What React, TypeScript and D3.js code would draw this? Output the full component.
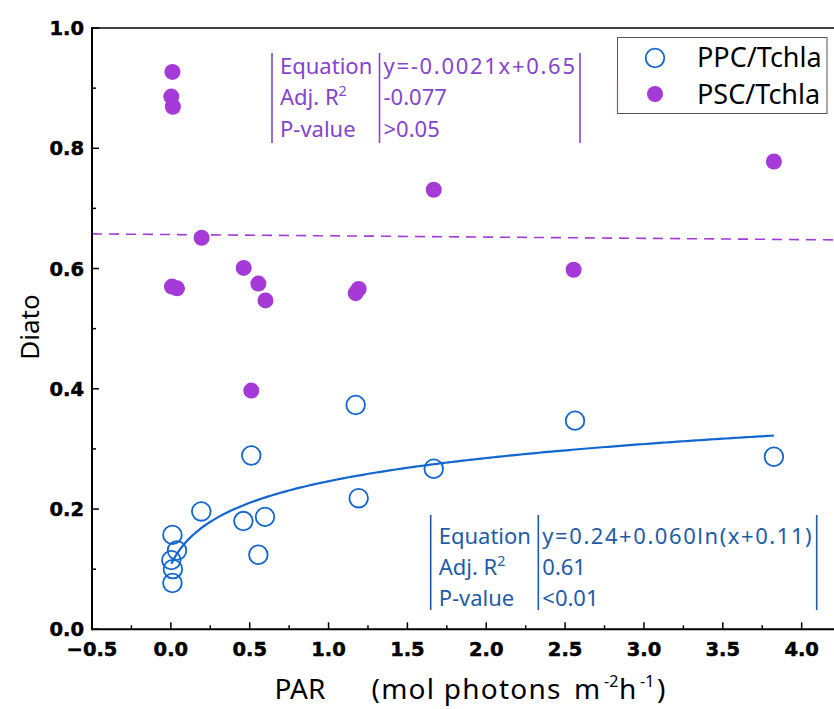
import React from 'react';
import * as d3 from 'd3';

// PPC/Tchla (open blue circles)
const ppcX = [0.01, 0.013, 0.003, 0.039, 0.01, 0.193, 0.51, 0.46, 0.597, 0.555, 1.172, 1.191, 1.667, 2.563, 3.824];
const ppcY = [0.077, 0.1, 0.115, 0.131, 0.157, 0.196, 0.289, 0.18, 0.187, 0.124, 0.373, 0.218, 0.267, 0.347, 0.287];
// PSC/Tchla (filled purple circles)
const pscX = [0.01, 0.003, 0.013, 0.195, 0.007, 0.039, 0.462, 0.555, 0.6, 0.51, 1.172, 1.191, 1.667, 2.554, 3.824];
const pscY = [0.927, 0.886, 0.869, 0.651, 0.57, 0.567, 0.601, 0.575, 0.547, 0.397, 0.559, 0.566, 0.731, 0.598, 0.778];

// Fits
const logA = 0.24, logB = 0.06, logC = 0.11;
const linSlope = -0.0021, linIntercept = 0.6565;

const xTicks = [-0.5, 0, 0.5, 1, 1.5, 2, 2.5, 3, 3.5, 4];
const yTicks = [0, 0.2, 0.4, 0.6, 0.8, 1.0];

const legendLabels = ['PPC/Tchla', 'PSC/Tchla'];
const pscTableKeys = ['Equation', 'Adj. R', 'P-value'];
const pscTableVals = ['y=-0.0021x+0.65', '-0.077', '>0.05'];
const ppcTableKeys = ['Equation', 'Adj. R', 'P-value'];
const ppcTableVals = ['y=0.24+0.060ln(x+0.11)', '0.61', '<0.01'];

const W = 834, H = 709;
const BLUE = '#1166cf';
const BLUE_TXT = '#1f5ca6';
const PURPLE = '#a53ad9';
const PURPLE_TXT = '#8444cc';
const TXT_FONT = '"Noto Sans", "Open Sans", sans-serif';
const TICK_FONT = '"DejaVu Sans", sans-serif';

export default function App() {
  const x = d3.scaleLinear().domain([-0.5, 4.2]).range([92, 833.2]);
  const y = d3.scaleLinear().domain([0, 1]).range([629.3, 28]);

  const xMinor = d3.range(-0.5, 4.21, 0.25);
  const yMinor = d3.range(0, 1.001, 0.1);

  const ppcMin = d3.min(ppcX) as number;
  const ppcMax = d3.max(ppcX) as number;
  const curvePts = d3.range(0, 201).map((i) => {
    const xv = ppcMin + ((ppcMax - ppcMin) * i) / 200;
    return [xv, logA + logB * Math.log(xv + logC)] as [number, number];
  });
  const curve = d3.line<[number, number]>().x((d) => x(d[0])).y((d) => y(d[1]))(curvePts) || '';
  const [x0, x1] = x.domain();
  const linePath = d3.line<[number, number]>().x((d) => x(d[0])).y((d) => y(d[1]))([
    [x0, linIntercept + linSlope * x0],
    [x1, linIntercept + linSlope * x1],
  ]) || '';

  const table = (
    keys: string[], vals: string[], color: string,
    xl: number, xm: number, xr: number, yTop: number, yBot: number, base0: number, fs: number,
  ) => (
    <g fill={color} fontFamily={TXT_FONT} fontSize={fs}>
      <line x1={xl} x2={xl} y1={yTop} y2={yBot} stroke={color} strokeWidth={1.6} />
      <line x1={xm} x2={xm} y1={yTop} y2={yBot} stroke={color} strokeWidth={1.6} />
      <line x1={xr} x2={xr} y1={yTop} y2={yBot} stroke={color} strokeWidth={1.6} />
      {keys.map((k, i) => (
        <text key={'k' + i} x={xl + 8} y={base0 + i * 31.3}>
          {k}
          {k === 'Adj. R' ? <tspan fontSize={fs * 0.65} dy={-9}>2</tspan> : null}
        </text>
      ))}
      {vals.map((v, i) => (
        <text key={'v' + i} x={xm + 4} y={base0 + i * 31.3}
          textLength={i === 0 ? xr - xm - 9 : undefined} lengthAdjust="spacing">{v}</text>
      ))}
    </g>
  );

  return (
    <svg width={W} height={H} style={{ position: 'absolute', left: 0, top: 0, display: 'block', background: '#fff' }}>
      {/* fit lines */}
      <path d={linePath} fill="none" stroke={PURPLE} strokeWidth={1.6} strokeDasharray="10,7" />
      <path d={curve} fill="none" stroke={BLUE} strokeWidth={2.2} />

      {/* points */}
      {pscX.map((xv, i) => (
        <circle key={'s' + i} cx={x(xv)} cy={y(pscY[i])} r={8} fill={PURPLE} />
      ))}
      {ppcX.map((xv, i) => (
        <circle key={'p' + i} cx={x(xv)} cy={y(ppcY[i])} r={9.3} fill="none" stroke={BLUE} strokeWidth={1.8} />
      ))}

      {/* axes */}
      <line x1={x.range()[0]} x2={W} y1={y(0)} y2={y(0)} stroke="#000" strokeWidth={2} />
      <line x1={x.range()[0]} x2={W} y1={y(1)} y2={y(1)} stroke="#000" strokeWidth={1.5} />
      <line x1={x.range()[0]} x2={x.range()[0]} y1={y(1) - 1} y2={y(0) + 1} stroke="#000" strokeWidth={2} />
      {xMinor.map((t, i) => {
        const major = Math.abs(t * 2 - Math.round(t * 2)) < 1e-6;
        return <line key={'xt' + i} x1={x(t)} x2={x(t)} y1={y(0)} y2={y(0) - (major ? 7 : 4)} stroke="#000" strokeWidth={1.5} />;
      })}
      {yMinor.map((t, i) => {
        const major = Math.abs(t * 5 - Math.round(t * 5)) < 1e-6;
        return <line key={'yt' + i} x1={x.range()[0]} x2={x.range()[0] + (major ? 7 : 4)} y1={y(t)} y2={y(t)} stroke="#000" strokeWidth={1.5} />;
      })}
      {xTicks.map((t, i) => (
        <text key={'xl' + i} x={x(t)} y={656} textAnchor="middle" fontFamily={TICK_FONT} fontWeight="bold" fontSize={19.5}
          fill="#000" stroke="#000" strokeWidth={0.5}>
          {d3.format('.1f')(t)}
        </text>
      ))}
      {yTicks.map((t, i) => (
        <text key={'yl' + i} x={84} y={y(t) + 7} textAnchor="end" fontFamily={TICK_FONT} fontWeight="bold" fontSize={19.5}
          fill="#000" stroke="#000" strokeWidth={0.5}>
          {d3.format('.1f')(t)}
        </text>
      ))}

      {/* axis titles */}
      <text transform="translate(39,327) rotate(-90)" textAnchor="middle" fontFamily={TXT_FONT} fontSize={26} fill="#000">Diato</text>
      <g fontFamily={TXT_FONT} fontSize={28} fill="#000">
        <text x={274.5} y={699}>PAR</text>
        <text x={371.5} y={699} textLength={189} lengthAdjust="spacing">(mol photons</text>
        <text x={574} y={699}>m</text>
        <text x={604} y={687} fontSize={16}>-2</text>
        <text x={619} y={699}>h</text>
        <text x={640} y={687} fontSize={16}>-1</text>
        <text x={657} y={699}>)</text>
      </g>

      {/* tables */}
      {table(pscTableKeys, pscTableVals, PURPLE_TXT, 272, 379.5, 580, 53, 143, 74, 22)}
      {table(ppcTableKeys, ppcTableVals, BLUE_TXT, 430.7, 538.3, 816.7, 515, 610, 543.5, 22)}

      {/* legend */}
      <rect x={617.5} y={37.5} width={209.5} height={76} fill="#fff" stroke="#555" strokeWidth={1} />
      <line x1={617.5} x2={617.5} y1={82} y2={113} stroke={PURPLE} strokeWidth={1.2} />
      <circle cx={655} cy={58} r={9.3} fill="none" stroke={BLUE} strokeWidth={1.8} />
      <circle cx={655} cy={94} r={8} fill={PURPLE} />
      {legendLabels.map((l, i) => (
        <text key={'lg' + i} x={697} y={67 + i * 36.5} fontFamily={TXT_FONT} fontSize={27} fill="#000">{l}</text>
      ))}
    </svg>
  );
}
